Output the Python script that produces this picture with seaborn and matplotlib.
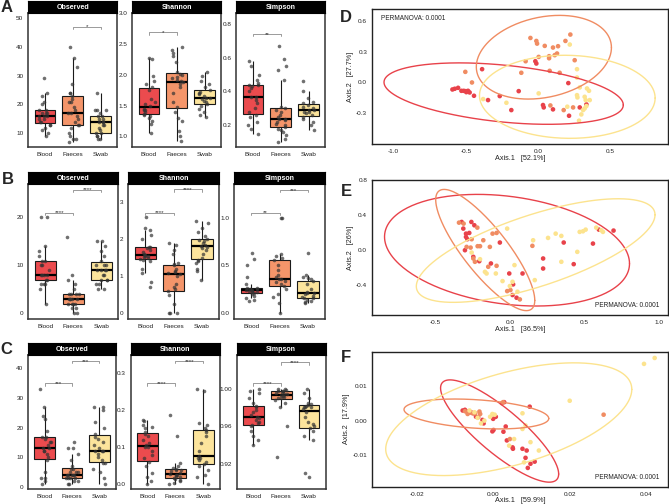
import numpy as np
import pandas as pd
import matplotlib
matplotlib.use('Agg')
import matplotlib.pyplot as plt
import seaborn as sns

# Grupos y colores
grupos = ['Blood', 'Faeces', 'Swab']
colores = {'Blood': '#EB4B4E', 'Faeces': '#F4956A', 'Swab': '#FCE49C'}
colores_elipse = {'Blood': '#E8424A', 'Faeces': '#F08C62', 'Swab': '#FCE38E'}

# ---------------- Fila A ----------------
a_observed = {
    'Blood': [9, 10, 11, 12, 13, 13, 14, 14, 15, 15, 16, 16, 16, 17, 17, 17, 18, 18, 20, 21, 23, 24, 29],
    'Faeces': [7, 8, 8, 9, 10, 12, 13, 13, 14, 15, 16, 17, 17, 18, 19, 21, 21, 22, 23, 24, 24, 27, 33, 36, 40],
    'Swab': [8, 8, 9, 9, 10, 10, 11, 12, 13, 13, 14, 14, 14, 15, 15, 16, 16, 17, 18, 18, 18, 24],
}
a_shannon = {
    'Blood': [1.06, 1.2, 1.25, 1.3, 1.33, 1.35, 1.37, 1.4, 1.42, 1.43, 1.45, 1.5, 1.53, 1.55, 1.6, 1.75, 1.8, 1.85, 1.9, 1.98, 2.25, 2.28],
    'Faeces': [0.92, 1.0, 1.08, 1.25, 1.3, 1.4, 1.48, 1.55, 1.7, 1.8, 1.85, 1.88, 1.9, 1.92, 1.95, 1.97, 2.0, 2.02, 2.05, 2.2, 2.3, 2.35, 2.4, 2.45],
    'Swab': [1.32, 1.35, 1.4, 1.45, 1.5, 1.52, 1.55, 1.58, 1.6, 1.62, 1.62, 1.65, 1.68, 1.7, 1.72, 1.75, 1.8, 1.85, 1.9, 1.98, 2.05],
}
a_simpson = {
    'Blood': [0.15, 0.18, 0.2, 0.22, 0.25, 0.26, 0.28, 0.3, 0.33, 0.35, 0.37, 0.37, 0.4, 0.42, 0.43, 0.44, 0.44, 0.45, 0.47, 0.5, 0.55, 0.58],
    'Faeces': [0.1, 0.12, 0.14, 0.16, 0.17, 0.18, 0.19, 0.2, 0.21, 0.22, 0.23, 0.235, 0.24, 0.25, 0.26, 0.28, 0.29, 0.3, 0.31, 0.47, 0.53, 0.55, 0.59, 0.67],
    'Swab': [0.17, 0.2, 0.22, 0.24, 0.25, 0.26, 0.27, 0.28, 0.28, 0.29, 0.29, 0.3, 0.31, 0.32, 0.33, 0.34, 0.36, 0.4, 0.46],
}

# ---------------- Fila B ----------------
b_observed = {
    'Blood': [2, 5, 6, 6, 6, 7, 7, 8, 8, 8, 8, 9, 10, 10, 11, 11, 12, 13, 14, 20, 20],
    'Faeces': [0, 0, 1, 1, 2, 2, 2, 2, 3, 3, 3, 3, 3, 4, 4, 4, 4, 5, 6, 7, 8, 16],
    'Swab': [5, 5, 6, 6, 7, 7, 7, 8, 8, 9, 9, 9, 9, 10, 10, 10, 11, 12, 13, 14, 15, 15],
}
b_shannon = {
    'Blood': [0.7, 0.85, 1.1, 1.2, 1.4, 1.45, 1.48, 1.5, 1.52, 1.55, 1.55, 1.58, 1.6, 1.65, 1.7, 1.75, 1.78, 1.8, 2.0, 2.12, 2.25, 2.3, 2.6],
    'Faeces': [0, 0, 0, 0.25, 0.5, 0.6, 0.65, 0.7, 0.8, 1.0, 1.05, 1.1, 1.12, 1.15, 1.2, 1.3, 1.32, 1.35, 1.6, 1.7, 1.85, 1.9],
    'Swab': [0.9, 1.15, 1.2, 1.35, 1.4, 1.45, 1.5, 1.6, 1.7, 1.75, 1.8, 1.82, 1.85, 1.9, 1.95, 1.97, 2.0, 2.1, 2.2, 2.3, 2.45, 2.48],
}
b_simpson = {
    'Blood': [0.12, 0.13, 0.15, 0.18, 0.2, 0.21, 0.215, 0.22, 0.225, 0.23, 0.235, 0.24, 0.245, 0.25, 0.255, 0.26, 0.3, 0.38, 0.5, 0.56, 0.63],
    'Faeces': [0, 0.1, 0.17, 0.2, 0.25, 0.28, 0.3, 0.32, 0.33, 0.35, 0.35, 0.38, 0.4, 0.45, 0.5, 0.55, 0.57, 0.6, 0.62, 1.0, 1.0],
    'Swab': [0.1, 0.11, 0.12, 0.13, 0.15, 0.15, 0.17, 0.18, 0.2, 0.21, 0.21, 0.22, 0.25, 0.3, 0.33, 0.35, 0.36, 0.38, 0.4, 0.63],
}

# ---------------- Fila C ----------------
c_observed = {
    'Blood': [1, 2, 3, 3, 5, 9, 10, 11, 12, 12, 13, 13, 14, 15, 15, 16, 17, 17, 19, 23, 24, 27, 33],
    'Faeces': [1, 1, 2, 2, 3, 3, 3, 3, 4, 4, 4, 4, 4, 5, 5, 5, 6, 6, 7, 9, 11, 13, 13, 15],
    'Swab': [1, 3, 5, 6, 8, 8, 9, 10, 11, 12, 12, 12, 13, 14, 15, 16, 17, 18, 20, 22, 26, 27, 27],
}
c_shannon = {
    'Blood': [0.0, 0.01, 0.02, 0.03, 0.05, 0.06, 0.07, 0.08, 0.09, 0.1, 0.1, 0.105, 0.11, 0.12, 0.13, 0.135, 0.14, 0.15, 0.155, 0.16, 0.17, 0.172],
    'Faeces': [0, 0.005, 0.01, 0.012, 0.015, 0.018, 0.02, 0.022, 0.025, 0.025, 0.028, 0.03, 0.035, 0.038, 0.04, 0.042, 0.045, 0.05, 0.057, 0.13, 0.185],
    'Swab': [0, 0.02, 0.025, 0.04, 0.05, 0.055, 0.06, 0.065, 0.07, 0.07, 0.075, 0.09, 0.11, 0.13, 0.14, 0.145, 0.15, 0.16, 0.165, 0.25, 0.255],
}
c_simpson = {
    'Blood': [0.94, 0.945, 0.95, 0.955, 0.96, 0.961, 0.963, 0.965, 0.967, 0.969, 0.97, 0.972, 0.975, 0.977, 0.98, 0.982, 0.985, 0.99, 0.995, 0.998, 1.0],
    'Faeces': [0.927, 0.96, 0.98, 0.985, 0.988, 0.99, 0.99, 0.991, 0.992, 0.993, 0.994, 0.994, 0.995, 0.996, 0.997, 0.997, 0.998, 0.999, 1.0, 1.0],
    'Swab': [0.906, 0.91, 0.945, 0.95, 0.955, 0.958, 0.96, 0.962, 0.965, 0.97, 0.975, 0.978, 0.98, 0.98, 0.981, 0.982, 0.983, 0.984, 0.985, 0.99, 0.995, 1.0],
}

# Limites, ticks y comparaciones (grupo1, grupo2, altura, etiqueta)
paneles_caja = [
    ('A', 'Observed', a_observed, (5.4, 51.5), [10, 20, 30, 40, 50], ['10', '20', '30', '40', '50'],
     [('Faeces', 'Swab', 46.9, '*')]),
    ('A', 'Shannon', a_shannon, (0.83, 2.98), [1.0, 1.5, 2.0, 2.5, 3.0], ['1.0', '1.5', '2.0', '2.5', '3.0'],
     [('Blood', 'Faeces', 2.69, '*')]),
    ('A', 'Simpson', a_simpson, (0.073, 0.863), [0.2, 0.4, 0.6, 0.8], ['0.2', '0.4', '0.6', '0.8'],
     [('Blood', 'Faeces', 0.74, '**')]),
    ('B', 'Observed', b_observed, (-1.2, 26.9), [0, 10, 20], ['0', '10', '20'],
     [('Blood', 'Faeces', 21.0, '****'), ('Faeces', 'Swab', 25.8, '****')]),
    ('B', 'Shannon', b_shannon, (-0.15, 3.48), [0, 1, 2, 3], ['0', '1', '2', '3'],
     [('Blood', 'Faeces', 2.72, '****'), ('Faeces', 'Swab', 3.35, '****')]),
    ('B', 'Simpson', b_simpson, (-0.066, 1.35), [0.0, 0.5, 1.0], ['0.0', '0.5', '1.0'],
     [('Blood', 'Faeces', 1.05, '**'), ('Faeces', 'Swab', 1.29, '***')]),
    ('C', 'Observed', c_observed, (-0.8, 44.5), [0, 10, 20, 30, 40], ['0', '10', '20', '30', '40'],
     [('Blood', 'Faeces', 35.0, '***'), ('Faeces', 'Swab', 42.5, '***')]),
    ('C', 'Shannon', c_shannon, (-0.013, 0.347), [0.0, 0.1, 0.2, 0.3], ['0.0', '0.1', '0.2', '0.3'],
     [('Blood', 'Faeces', 0.271, '****'), ('Faeces', 'Swab', 0.331, '****')]),
    ('C', 'Simpson', c_simpson, (0.893, 1.0358), [0.92, 0.96, 1.00], ['0.92', '0.96', '1.00'],
     [('Blood', 'Faeces', 1.0057, '****'), ('Faeces', 'Swab', 1.028, '****')]),
]

# ---------------- Ordenaciones ----------------
d_x = {
    'Blood': [-0.594, -0.578, -0.555, -0.532, -0.516, -0.502, -0.486, -0.475, -0.498, -0.445, -0.389, -0.348, -0.267, -0.187, -0.136, -0.021, -0.014, 0.032, 0.037, 0.101, 0.207, 0.212, 0.286, 0.332],
    'Faeces': [-0.505, -0.459, -0.118, -0.088, -0.055, -0.014, -0.009, 0.002, 0.044, 0.074, 0.074, 0.078, 0.101, 0.113, 0.129, 0.136, 0.147, 0.175, 0.187, 0.221, 0.251, 0.083, 0.240],
    'Swab': [-0.382, -0.221, 0.002, 0.200, 0.217, 0.267, 0.267, 0.286, 0.267, 0.270, 0.281, 0.297, 0.309, 0.320, 0.327, 0.336, 0.350, 0.355, 0.320, 0.332],
}
d_y = {
    'Blood': [-0.068, -0.061, -0.052, -0.081, -0.081, -0.084, -0.081, -0.097, -0.094, -0.129, 0.129, -0.171, -0.132, -0.268, -0.084, 0.206, 0.184, -0.219, -0.242, -0.261, -0.006, -0.323, -0.242, -0.213],
    'Faeces': [0.103, 0.0, 0.094, 0.206, 0.432, 0.403, 0.377, 0.248, 0.355, 0.255, 0.235, 0.113, 0.339, 0.265, 0.281, 0.352, 0.094, -0.268, 0.403, 0.465, 0.216, -0.223, -0.242],
    'Swab': [-0.161, -0.197, -0.106, -0.235, 0.368, 0.129, 0.048, -0.048, -0.123, -0.145, -0.371, -0.310, -0.268, -0.252, -0.171, -0.058, -0.081, -0.171, -0.139, -0.229],
}
e_x = {
    'Blood': [-0.323, -0.312, -0.294, -0.294, -0.285, -0.272, -0.258, -0.245, -0.238, -0.205, -0.127, -0.067, -0.004, 0.022, 0.018, 0.045, 0.085, 0.223, 0.223, 0.361, 0.428, 0.557, 0.597, 0.695, -0.301],
    'Faeces': [-0.341, -0.31, -0.29, -0.263, -0.256, -0.245, -0.234, -0.218, -0.216, -0.2, -0.178, -0.145, -0.134, -0.116, -0.089, -0.089, -0.018, 0.004, 0.067, 0.151],
    'Swab': [-0.256, -0.2, -0.167, -0.156, -0.094, -0.049, -0.018, 0.0, 0.018, 0.031, 0.051, 0.156, 0.167, 0.256, 0.307, 0.345, 0.345, 0.452, 0.468, 0.49, 0.508, 0.579, 0.624, 0.612],
}
e_y = {
    'Blood': [0.324, 0.248, 0.19, 0.152, 0.126, 0.198, 0.324, -0.076, 0.286, -0.126, -0.152, 0.088, -0.267, -0.392, -0.514, -0.545, -0.267, -0.095, -0.21, 0.088, -0.16, 0.076, 0.236, 0.225, 0.0],
    'Faeces': [0.316, 0.305, 0.038, 0.03, 0.126, -0.095, -0.133, 0.259, 0.046, 0.046, 0.114, -0.19, 0.038, 0.19, 0.198, -0.179, -0.469, -0.457, -0.564, 0.05],
    'Swab': [-0.027, -0.103, -0.248, -0.267, -0.267, -0.354, 0.248, -0.411, -0.362, -0.171, -0.476, 0.114, -0.343, 0.141, 0.19, 0.164, -0.133, -0.019, 0.21, 0.217, 0.236, 0.259, 0.21, 0.229],
}
f_x = {
    'Blood': [-0.0081, -0.0075, -0.007, -0.0063, -0.0059, -0.0052, -0.0046, -0.0029, -0.0026, -0.0003, 0.0, -0.0001, 0.0006, 0.0028, 0.0026, 0.0032, 0.0035, 0.0051, 0.005, 0.0076, 0.0084, 0.009, 0.0097, 0.0108, 0.0095, 0.0087],
    'Faeces': [-0.0075, -0.0065, -0.0055, -0.0048, -0.0037, 0.0022, 0.0025, 0.0043, 0.0289, -0.0035, -0.004, -0.0068],
    'Swab': [-0.005, -0.0042, -0.0033, -0.0009, -0.0003, 0.0003, 0.0054, 0.0041, 0.0076, 0.0076, 0.0084, 0.0097, 0.0119, 0.008, 0.02, 0.0395, 0.0423, -0.0024, -0.0063],
}
f_y = {
    'Blood': [0.0029, 0.0031, 0.0026, 0.0024, 0.0024, 0.0021, 0.0011, 0.0002, -0.0008, -0.0031, -0.0027, 0.0005, 0.0011, 0.0053, -0.0032, -0.0017, -0.0057, -0.0081, -0.0077, -0.0081, -0.0107, -0.0136, -0.0124, -0.0118, 0.004, -0.0086],
    'Faeces': [0.0027, 0.0024, 0.0021, 0.0021, 0.0026, 0.005, 0.0053, -0.0053, 0.0017, 0.0019, 0.001, 0.0019],
    'Swab': [0.0024, 0.0008, -0.0008, 0.0011, 0.0019, 0.0017, -0.0053, -0.0072, 0.0021, -0.0024, -0.0014, -0.0062, -0.0086, -0.012, 0.0057, 0.0163, 0.018, 0.0, 0.0029],
}

# Elipses: centro x, centro y, semiancho x, semialto y, correlacion
d_elipses = {'Blood': (-0.24, -0.108, 0.827, 0.298, -0.37),
             'Faeces': (0.038, 0.245, 0.467, 0.406, 0.23),
             'Swab': (0.20, -0.139, 0.607, 0.403, -0.03)}
e_elipses = {'Blood': (-0.019, 0.0, 0.821, 0.64, -0.24),
             'Faeces': (-0.165, 0.002, 0.332, 0.695, -0.83),
             'Swab': (0.173, -0.004, 0.80, 0.594, 0.69)}
f_elipses = {'Blood': (0.0016, -0.003, 0.0155, 0.0147, -0.84),
             'Faeces': (-0.0045, 0.0019, 0.019, 0.0043, -0.3),
             'Swab': (0.004, 0.0004, 0.0323, 0.0162, 0.53)}

paneles_ord = [
    ('D', d_x, d_y, d_elipses, (-1.15, 0.896), (-0.597, 0.71), [-1.0, -0.5, 0.0, 0.5], ['-1.0', '-0.5', '0.0', '0.5'],
     [-0.3, 0.0, 0.3, 0.6], ['-0.3', '0.0', '0.3', '0.6'], 'Axis.1   [52.1%]', 'Axis.2   [27.7%]', 'arriba'),
    ('E', e_x, e_y, e_elipses, (-0.924, 1.06), (-0.743, 0.805), [-0.5, 0.0, 0.5, 1.0], ['-0.5', '0.0', '0.5', '1.0'],
     [-0.4, 0.0, 0.4, 0.8], ['-0.4', '0.0', '0.4', '0.8'], 'Axis.1   [36.5%]', 'Axis.2   [26%]', 'abajo'),
    ('F', f_x, f_y, f_elipses, (-0.0319, 0.0458), (-0.019, 0.0198), [-0.02, 0.0, 0.02, 0.04], ['-0.02', '0.00', '0.02', '0.04'],
     [-0.01, 0.0, 0.01], ['-0.01', '0.00', '0.01'], 'Axis.1   [59.9%]', 'Axis.2   [17.9%]', 'abajo'),
]

sns.set_style('white')
plt.rcParams['font.family'] = ['Liberation Sans', 'DejaVu Sans']

W, H = 669, 504
fig = plt.figure(figsize=(W / 100, H / 100), dpi=100)


def rect(l, t, r, b):
    return [l / W, 1 - b / H, (r - l) / W, (b - t) / H]


# Posiciones en pixeles
columnas = {
    'A': [(28.3, 117.3), (132.3, 221.3), (236.3, 325.3)],
    'B': [(28.3, 118.3), (128.3, 219.0), (234.3, 325.0)],
    'C': [(28.3, 115.7), (130.7, 220.0), (236.7, 325.7)],
}
filas = {'A': (1.0, 13.3, 146.7), 'B': (172.3, 184.3, 319.0), 'C': (343.3, 355.0, 489.3)}
letras = {'A': (7, 8), 'B': (8, 179), 'C': (6, 349), 'D': (346, 18), 'E': (346, 191), 'F': (346, 358)}

tam_tick = 4.6

np.random.seed(3)
contador = {'A': 0, 'B': 0, 'C': 0}
for fila, titulo, datos, ylim, ticks, etiquetas, comparaciones in paneles_caja:
    i = contador[fila]
    contador[fila] += 1
    l, r = columnas[fila][i]
    ts, tp, b = filas[fila]
    ax = fig.add_axes(rect(l, tp, r, b))
    df = pd.DataFrame([(g, v) for g in grupos for v in datos[g]], columns=['grupo', 'valor'])
    sns.boxplot(data=df, x='grupo', y='valor', hue='grupo', order=grupos, hue_order=grupos,
                palette=colores, width=0.75, showfliers=False, showcaps=False, saturation=1,
                linewidth=0.8, linecolor='#1a1a1a', legend=False,
                medianprops={'linewidth': 1.6, 'color': 'black'}, ax=ax)
    sns.stripplot(data=df, x='grupo', y='valor', order=grupos, color='#333333', alpha=0.7,
                  size=2.6, jitter=0.22, ax=ax)
    ax.set_xlim(-0.6, 2.6)
    ax.set_ylim(*ylim)
    ax.set_yticks(ticks)
    ax.set_yticklabels(etiquetas)
    ax.set_xlabel('')
    ax.set_ylabel('')
    ax.tick_params(axis='both', labelsize=tam_tick, length=2, width=0.6, pad=1.5, colors='#333333',
                   labelcolor='#222222')
    for s in ax.spines.values():
        s.set_color('#333333')
        s.set_linewidth(1.1)
    rango = ylim[1] - ylim[0]
    for g1, g2, yy, lab in comparaciones:
        x1, x2 = grupos.index(g1), grupos.index(g2)
        d = rango * 0.018
        ax.plot([x1, x1, x2, x2], [yy - d, yy, yy, yy - d], color='#8a8a8a', lw=0.6)
        ax.annotate(lab, xy=((x1 + x2) / 2, yy), xytext=(0, -1.2), textcoords='offset points',
                    ha='center', va='baseline', fontsize=4.5, color='#333333')
    # tira de titulo
    tira = fig.add_axes(rect(l, ts, r, tp))
    tira.set_facecolor('black')
    tira.set_xticks([])
    tira.set_yticks([])
    for s in tira.spines.values():
        s.set_color('black')
    tira.text(0.5, 0.47, titulo, ha='center', va='center', color='white', fontsize=5.1,
              fontweight='bold', transform=tira.transAxes)

# Ordenaciones
posiciones_ord = {'D': (372, 9.3, 668, 144), 'E': (372, 180, 668, 315), 'F': (372, 351.7, 668, 486.7)}
t = np.linspace(0, 2 * np.pi, 300)
for letra, px, py, elipses, xlim, ylim, xt, xtl, yt, ytl, xlab, ylab, nota in paneles_ord:
    ax = fig.add_axes(rect(*posiciones_ord[letra]))
    df = pd.DataFrame([(g, xv, yv) for g in grupos for xv, yv in zip(px[g], py[g])],
                      columns=['grupo', 'x', 'y'])
    for g in grupos:
        cx, cy, hx, hy, rho = elipses[g]
        ex = cx + hx * np.cos(t)
        ey = cy + hy * (rho * np.cos(t) + np.sqrt(1 - rho ** 2) * np.sin(t))
        ax.plot(ex, ey, color=colores_elipse[g], lw=1.0)
    sns.scatterplot(data=df, x='x', y='y', hue='grupo', hue_order=grupos, palette=colores_elipse,
                    s=11, edgecolor='none', legend=False, ax=ax)
    ax.set_xlim(*xlim)
    ax.set_ylim(*ylim)
    ax.set_xticks(xt)
    ax.set_xticklabels(xtl)
    ax.set_yticks(yt)
    ax.set_yticklabels(ytl)
    ax.set_xlabel(xlab, fontsize=5.2, labelpad=0.5, color='#222222')
    ax.set_ylabel(ylab, fontsize=5.2, labelpad=1.5, color='#222222')
    ax.tick_params(axis='both', labelsize=tam_tick, length=2, width=0.6, pad=1.5, colors='#333333',
                   labelcolor='#222222')
    for s in ax.spines.values():
        s.set_color('#222222')
        s.set_linewidth(1.0)
    if nota == 'arriba':
        ax.text(0.03, 0.93, 'PERMANOVA: 0.0001', transform=ax.transAxes, fontsize=4.7,
                ha='left', va='center', color='#222222')
    else:
        ax.text(0.97, 0.07, 'PERMANOVA: 0.0001', transform=ax.transAxes, fontsize=4.7,
                ha='right', va='center', color='#222222')

for letra, (x, y) in letras.items():
    fig.text(x / W, 1 - y / H, letra, fontsize=12, fontweight='bold', ha='center', va='center')

fig.savefig('out.png', dpi=100)
